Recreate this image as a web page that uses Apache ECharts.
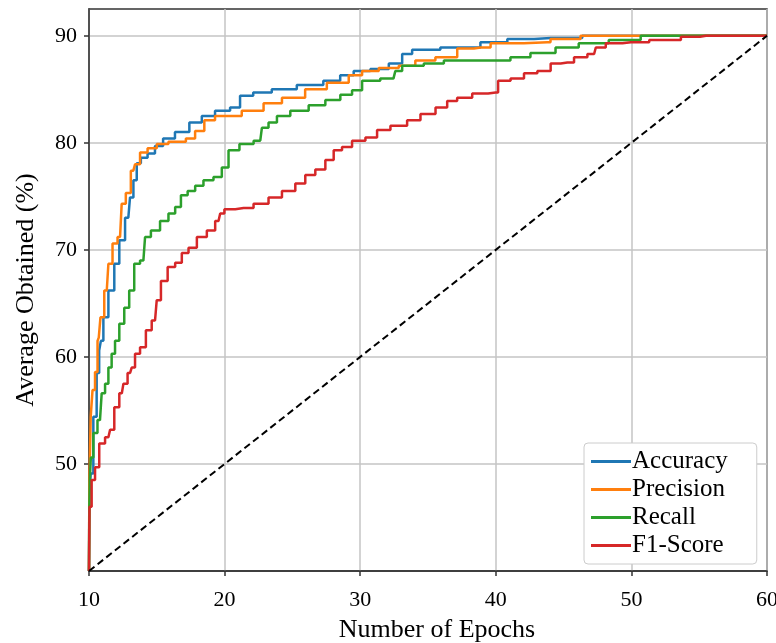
<!DOCTYPE html>
<html><head><meta charset="utf-8">
<script src="https://cdn.jsdelivr.net/npm/echarts@6/dist/echarts.min.js"></script>
<style>html,body{margin:0;padding:0;background:#fff}#c{width:776px;height:643px}</style>
</head><body><div id="c"></div>
<script>
const seriesNames = ['Accuracy', 'Precision', 'Recall', 'F1-Score'];
const xTicks = [10, 20, 30, 40, 50, 60];
const yTicks = [50, 60, 70, 80, 90];
const accuracy = [[10,40],[10.05,47],[10.2,49.1],[10.44,54.4],[10.69,58.5],[10.81,60.6],[10.94,61.5],[11.18,63.7],[11.68,66.2],[12.05,68.7],[12.42,70.9],[12.9,73],[13.15,74.9],[13.4,76.5],[13.64,78.1],[14.01,78.6],[14.63,79],[15.1,79.7],[15.83,80.4],[16.85,81],[17.95,81.9],[18.69,82.5],[19.9,83],[20.91,83.3],[21.37,84.4],[22.85,84.7],[24.11,85],[26.54,85.4],[28.02,85.8],[29.03,86.3],[30.01,86.7],[31.49,86.9],[32.73,87.4],[33.46,88.3],[34.2,88.7],[37.62,88.9],[40.11,89.4],[41.59,89.7],[44.05,89.8],[48.7,90],[60,90]];
const precision = [[10,40],[10.05,48],[10.2,54.4],[10.32,56.9],[10.57,58.6],[10.69,61.5],[10.75,61.8],[10.94,63.7],[11.31,66.2],[11.55,68.7],[11.92,70.6],[12.29,71.2],[12.53,74.3],[12.9,75.3],[13.27,77.4],[13.52,78],[14.01,79.1],[14.63,79.5],[15.37,79.9],[16.35,80.1],[16.96,80.1],[17.33,80.4],[18.32,81.1],[18.69,82.1],[19.9,82.5],[22.63,83],[23.12,83.7],[25.34,84.2],[26.54,85],[28.54,85.6],[29.77,86.3],[30.51,86.7],[32.23,87],[33.46,87.2],[34.67,87.7],[36.42,88],[37.89,88.8],[38.88,88.9],[40.35,89.3],[43.8,89.4],[44.27,89.7],[48.23,90],[60,90]];
const recall = [[10,40],[10.05,46],[10.07,48.5],[10.2,50.6],[10.44,52.9],[10.81,54.1],[11.06,56.6],[11.31,57.5],[11.55,59],[11.79,60.3],[12.05,61.5],[12.42,63.1],[12.78,64.6],[13.15,66.2],[13.52,68.7],[14.01,69],[14.26,71.2],[14.87,71.8],[15.61,72.7],[16.11,73.4],[16.6,74],[16.96,75.1],[17.59,75.5],[18.07,76],[18.81,76.5],[19.55,76.8],[20.04,77.7],[20.54,79.3],[21.65,79.9],[22.63,80.2],[22.87,81.4],[23.61,81.9],[24.11,82.5],[25.58,83],[26.82,83.5],[28.04,84],[29.03,84.5],[29.77,84.9],[30.51,85.8],[32.45,86],[32.73,86.7],[33.46,87.2],[35.92,87.4],[36.42,87.7],[40.85,87.7],[41.31,88],[43.8,88.4],[45.01,88.9],[47.22,89.3],[49.44,89.6],[51.93,90],[60,90]];
const f1score = [[10,40],[10.07,46],[10.32,48.5],[10.57,49.7],[10.94,51.9],[11.43,52.5],[11.68,53.2],[12.05,55.3],[12.42,56.6],[12.66,57.5],[13.03,58.5],[13.27,59],[13.52,60.3],[14.01,60.9],[14.38,62.5],[14.87,63.4],[15.12,65.3],[15.49,67.1],[16.11,68.4],[16.6,68.8],[17.09,69.7],[17.59,70.2],[18.32,71.2],[19.06,71.8],[19.55,72.7],[19.8,73.4],[20.17,73.8],[21.4,73.9],[22.87,74.3],[23.61,74.9],[24.85,75.5],[25.58,76.2],[26.32,77],[27.06,77.5],[27.8,78.4],[28.29,79.3],[29.03,79.6],[29.77,80.2],[31.0,80.5],[31.49,81.2],[32.97,81.6],[33.95,82.1],[34.94,82.7],[36.17,83.3],[36.66,83.9],[37.64,84.2],[38.88,84.6],[39.99,84.7],[40.35,85.8],[41.83,86],[42.33,86.5],[43.8,86.7],[44.29,87.4],[45.28,87.5],[46.26,88],[47.25,88.3],[47.5,88.9],[48.72,89.3],[49.96,89.4],[52.67,89.6],[54.63,89.9],[55.5,90],[60,90]];
const diagonal = [[10,40],[60,90]];

const colors = ['#1f77b4', '#ff7f0e', '#2ca02c', '#d62728'];
const allData = [accuracy, precision, recall, f1score];
const font = 'Liberation Serif';

const chart = echarts.init(document.getElementById('c'), null, {renderer: 'canvas'});
const series = seriesNames.map((n, i) => ({
  name: n, type: 'line', data: allData[i], step: 'middle', showSymbol: false, symbol: 'none',
  lineStyle: {color: colors[i], width: 2.5}, itemStyle: {color: colors[i]}, z: 3 + i, animation: false
}));
series.push({
  name: 'diag', type: 'line', data: diagonal, showSymbol: false, symbol: 'none',
  lineStyle: {color: '#000', width: 2, type: [7, 4]}, z: 8, animation: false
});
chart.setOption({
  animation: false,
  backgroundColor: '#fff',
  grid: {left: 89, top: 9, right: 9, bottom: 72, outerBoundsMode: 'none', containLabel: false,
    show: true, borderColor: '#333', borderWidth: 1.5, backgroundColor: 'transparent'},
  legend: {
    data: seriesNames, orient: 'vertical', left: 584, top: 443,
    icon: 'rect', itemWidth: 40, itemHeight: 3, itemGap: 3,
    backgroundColor: '#fff', borderColor: '#ccc', borderWidth: 1, borderRadius: 4,
    padding: [6, 29, 6, 7],
    textStyle: {fontFamily: font, fontSize: 25, color: '#000', padding: [0, 0, 0, -4]}
  },
  xAxis: {
    type: 'value', min: 10, max: 60, interval: 10,
    name: 'Number of Epochs', nameLocation: 'middle', nameGap: 46,
    nameTextStyle: {fontFamily: font, fontSize: 26, color: '#000', padding: [0, 0, 0, 18]},
    axisLine: {show: true, lineStyle: {color: '#333', width: 1.5}},
    axisTick: {show: true, length: 5, lineStyle: {color: '#333', width: 1.5}},
    axisLabel: {fontFamily: font, fontSize: 22, color: '#000', margin: 18},
    splitLine: {show: true, lineStyle: {color: '#c4c4c4', width: 1.5}}
  },
  yAxis: {
    type: 'value', min: 40, max: 92.5, interval: 10,
    name: 'Average Obtained (%)', nameLocation: 'middle', nameGap: 50,
    nameTextStyle: {fontFamily: font, fontSize: 26, color: '#000'},
    axisLine: {show: true, lineStyle: {color: '#333', width: 1.5}},
    axisTick: {show: true, length: 5, customValues: yTicks, lineStyle: {color: '#333', width: 1.5}},
    axisLabel: {fontFamily: font, fontSize: 22, color: '#000', margin: 12, customValues: yTicks},
    splitLine: {show: true, lineStyle: {color: '#c4c4c4', width: 1.5}}
  },
  series: series
});
</script></body></html>
